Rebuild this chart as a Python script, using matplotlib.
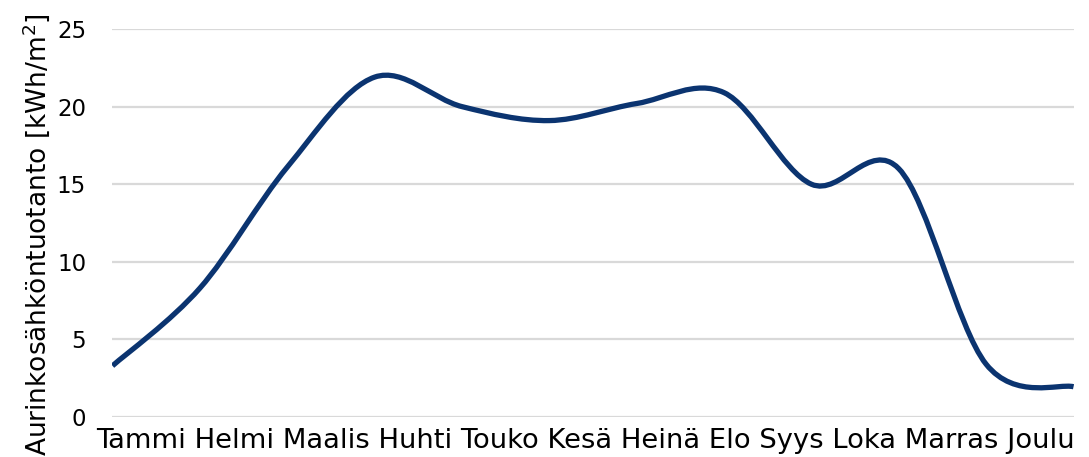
import matplotlib
matplotlib.use("Agg")
import matplotlib.pyplot as plt
from matplotlib.path import Path
from matplotlib.patches import PathPatch

# Monthly solar electricity yield, kWh/m2
months = ["Tammi", "Helmi", "Maalis", "Huhti", "Touko", "Kesä",
          "Heinä", "Elo", "Syys", "Loka", "Marras", "Joulu"]
production = [3.3, 8.3, 16.1, 21.9, 20.0, 19.1, 20.2, 20.9, 15.0, 16.0, 3.4, 1.95]
y_ticks = [0, 5, 10, 15, 20, 25]

LINE_COLOR = "#0b3470"
GRID_COLOR = "#d9d9d9"

plt.rcParams["font.family"] = ["DejaVu Sans"]

fig = plt.figure(figsize=(10.89, 4.57), dpi=100)
ax = fig.add_axes([0.1033, 0.0875, 0.8825, 0.849])

xs = list(range(len(production)))
pts = list(zip(xs, production))


def smooth_path(points):
    """Cubic Bezier through every point, tangents from neighbouring points."""
    n = len(points)
    verts = [points[0]]
    codes = [Path.MOVETO]
    for i in range(n - 1):
        p_prev = points[i - 1] if i > 0 else points[i]
        p0 = points[i]
        p1 = points[i + 1]
        p_next = points[i + 2] if i + 2 < n else points[i + 1]
        c1 = (p0[0] + (p1[0] - p_prev[0]) / 6.0, p0[1] + (p1[1] - p_prev[1]) / 6.0)
        c2 = (p1[0] - (p_next[0] - p0[0]) / 6.0, p1[1] - (p_next[1] - p0[1]) / 6.0)
        verts += [c1, c2, p1]
        codes += [Path.CURVE4] * 3
    return Path(verts, codes)


patch = PathPatch(smooth_path(pts), facecolor="none", edgecolor=LINE_COLOR,
                  linewidth=3.8, capstyle="butt", joinstyle="round", zorder=3)
ax.add_patch(patch)

ax.set_xlim(0, len(production) - 1)
ax.set_ylim(0, 25)
ax.set_yticks(y_ticks)
ax.set_yticklabels([str(t) for t in y_ticks], fontsize=16.5)
ax.set_xticks([])
ax.tick_params(axis="y", length=0, pad=19)
ax.yaxis.grid(True, color=GRID_COLOR, linewidth=1.6)
ax.set_axisbelow(True)
for side in ax.spines.values():
    side.set_visible(False)

# Month names run as one line of text under the plot
fig.text(585 / 1089, 1 - 441 / 457, " ".join(months), fontsize=19.7,
         ha="center", va="center")

fig.text(36 / 1089, 1 - 235 / 457, "Aurinkosähköntuotanto [kWh/m$^2$]",
         fontsize=19, rotation=90, ha="center", va="center")

fig.savefig("out.png", dpi=100)
